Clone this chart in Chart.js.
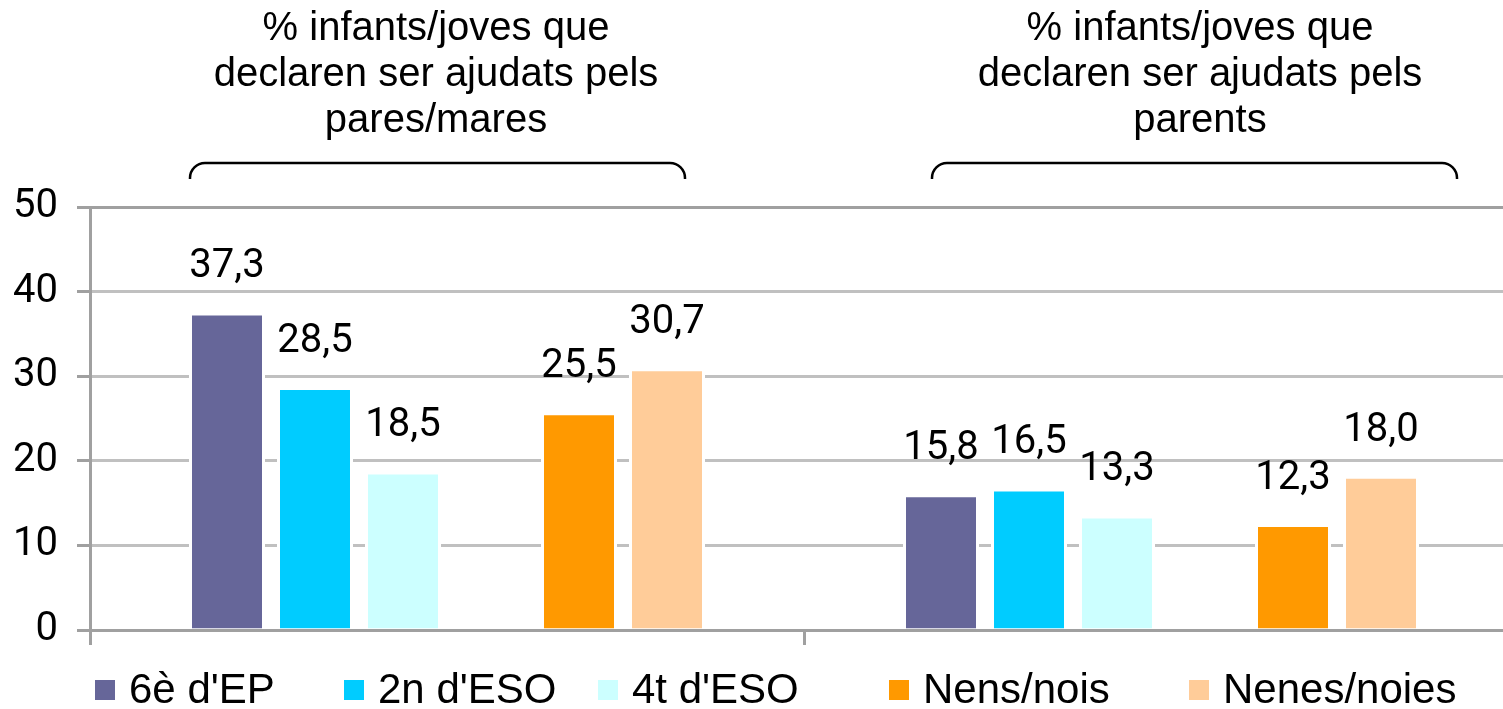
<!DOCTYPE html>
<html><head><meta charset="utf-8">
<script src="https://cdn.jsdelivr.net/npm/chart.js@4.4.1/dist/chart.umd.min.js"></script>
<style>html,body{margin:0;padding:0;background:#fff;overflow:hidden;} #wrap{width:1520px;height:709px;}</style>
</head><body><div id="wrap"><canvas id="c" width="1520" height="709"></canvas></div>
<script>
// ---- data ----
const groupTitles = [
  ['% infants/joves que', 'declaren ser ajudats pels', 'pares/mares'],
  ['% infants/joves que', 'declaren ser ajudats pels', 'parents']
];
const seriesNames = ["6è d'EP", "2n d'ESO", "4t d'ESO", "Nens/nois", "Nenes/noies"];
const v6eEP   = [37.3, 15.8];
const v2nESO  = [28.5, 16.5];
const v4tESO  = [18.5, 13.3];
const vNens   = [25.5, 12.3];
const vNenes  = [30.7, 18.0];
const yTicks  = [0, 10, 20, 30, 40, 50];

// ---- styles ----
const colors = ['#666699', '#00CCFF', '#CCFFFF', '#FF9900', '#FFCC99'];
const TXT_FONT = '"Liberation Sans", Arial, sans-serif';
const NUM_FONT = 'Roboto, "Liberation Sans", sans-serif';

function barDs(label, data, color) {
  return { label, data, backgroundColor: color, borderColor: '#ffffff',
    borderWidth: { left: 3, right: 3, top: 1, bottom: 0 }, borderSkipped: 'bottom' };
}
const datasets = [
  barDs(seriesNames[0], v6eEP, colors[0]),
  barDs(seriesNames[1], v2nESO, colors[1]),
  barDs(seriesNames[2], v4tESO, colors[2]),
  { label: '', data: [null, null], backgroundColor: 'rgba(0,0,0,0)', spacer: true },
  barDs(seriesNames[3], vNens, colors[3]),
  barDs(seriesNames[4], vNenes, colors[4])
];

const valueLabels = {
  id: 'valueLabels',
  afterDatasetsDraw(chart) {
    const ctx = chart.ctx;
    ctx.save();
    ctx.font = '40px ' + NUM_FONT;
    ctx.fillStyle = '#000';
    ctx.textAlign = 'center';
    ctx.textBaseline = 'alphabetic';
    chart.data.datasets.forEach((ds, i) => {
      if (ds.spacer) return;
      chart.getDatasetMeta(i).data.forEach((el, j) => {
        const v = ds.data[j];
        if (v == null) return;
        ctx.fillText(v.toFixed(1).replace('.', ','), el.x, el.y - 37);
      });
    });
    ctx.restore();
  }
};

const groupAnnotations = {
  id: 'groupAnnotations',
  afterDraw(chart) {
    const ctx = chart.ctx, xs = chart.scales.x, top = chart.chartArea.top;
    const braceOff = [[-257, 238], [-229, 296]];
    const textOff = [-11, 39];
    ctx.save();
    chart.data.labels.forEach((lines, i) => {
      const cx = xs.getPixelForValue(i);
      ctx.font = '40px ' + TXT_FONT;
      ctx.fillStyle = '#000';
      ctx.textAlign = 'center';
      ctx.textBaseline = 'alphabetic';
      lines.forEach((ln, k) => ctx.fillText(ln, cx + textOff[i], top - 167 + k * 46));
      const x0 = cx + braceOff[i][0], x1 = cx + braceOff[i][1];
      const yt = top - 44, yb = top - 28, r = 15;
      ctx.beginPath();
      ctx.moveTo(x0, yb);
      ctx.arcTo(x0, yt, x0 + r, yt, r);
      ctx.lineTo(x1 - r, yt);
      ctx.arcTo(x1, yt, x1, yt + r, r);
      ctx.lineTo(x1, yb);
      ctx.lineWidth = 2.5;
      ctx.strokeStyle = '#000';
      ctx.stroke();
    });
    ctx.restore();
  }
};

const customLegend = {
  id: 'customLegend',
  afterDraw(chart) {
    const ctx = chart.ctx, bottom = chart.chartArea.bottom;
    const itemX = [95, 344, 598, 889, 1189];
    ctx.save();
    ctx.font = '42px ' + TXT_FONT;
    ctx.textAlign = 'left';
    ctx.textBaseline = 'alphabetic';
    let k = 0;
    chart.data.datasets.forEach(ds => {
      if (ds.spacer) return;
      const x = itemX[k++];
      ctx.fillStyle = ds.backgroundColor;
      ctx.fillRect(x, bottom + 50, 20, 20);
      ctx.fillStyle = '#000';
      ctx.fillText(ds.label, x + 34, bottom + 73);
    });
    ctx.restore();
  }
};

new Chart(document.getElementById('c'), {
  type: 'bar',
  data: { labels: groupTitles, datasets },
  options: {
    responsive: false,
    animation: false,
    events: [],
    layout: { padding: { top: 207, left: 0, right: 2, bottom: 0 } },
    datasets: { bar: { categoryPercentage: 0.7395, barPercentage: 0.8636 } },
    plugins: { legend: { display: false }, tooltip: { enabled: false }, title: { display: false } },
    scales: {
      x: {
        type: 'category',
        offset: true,
        ticks: { display: false },
        grid: { display: true, offset: true, drawOnChartArea: false, drawTicks: true,
                tickLength: 15, tickColor: '#a0a0a0', tickWidth: 3, color: '#a0a0a0', lineWidth: 3 },
        border: { display: true, color: '#a0a0a0', width: 3 },
        afterFit(scale) { scale.height = 79; }
      },
      y: {
        min: 0, max: 50,
        afterBuildTicks(scale) { scale.ticks = yTicks.map(v => ({ value: v })); },
        ticks: { font: { family: NUM_FONT, size: 40 }, color: '#000', padding: 19 },
        grid: {
          color: c => (c.tick && c.tick.value === 50) ? '#a0a0a0' : '#c0c0c0',
          lineWidth: 3, tickLength: 13, tickColor: '#a0a0a0', tickWidth: 3, drawTicks: true
        },
        border: { display: true, color: '#a0a0a0', width: 3 },
        afterFit(scale) { scale.width = 90; }
      }
    }
  },
  plugins: [valueLabels, groupAnnotations, customLegend]
});
</script></body></html>
